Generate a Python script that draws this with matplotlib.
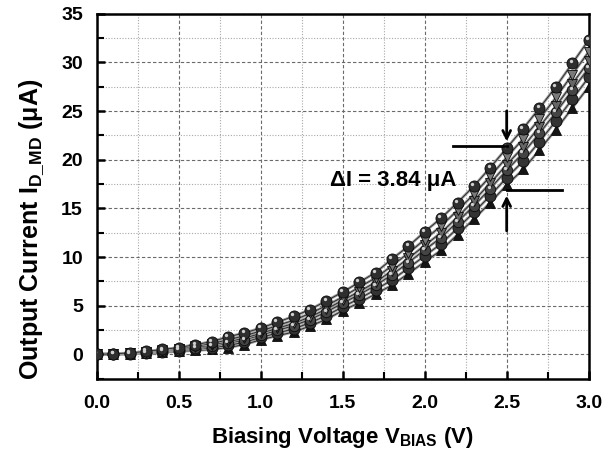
import numpy as np
import matplotlib
matplotlib.use("Agg")
import matplotlib.pyplot as plt
from matplotlib.ticker import MultipleLocator, FormatStrFormatter
from matplotlib.transforms import ScaledTranslation

plt.rcParams['font.family'] = ['Liberation Sans', 'DejaVu Sans']
plt.rcParams['font.weight'] = 'bold'
plt.rcParams['mathtext.fontset'] = 'custom'
plt.rcParams['mathtext.rm'] = 'Liberation Sans:bold'
plt.rcParams['mathtext.bf'] = 'Liberation Sans:bold'
plt.rcParams['mathtext.it'] = 'Liberation Sans:bold'

# bias voltage (V)
v_bias = [0.0, 0.1, 0.2, 0.3, 0.4, 0.5, 0.6, 0.7, 0.8, 0.9, 1.0,
          1.1, 1.2, 1.3, 1.4, 1.5, 1.6, 1.7, 1.8, 1.9, 2.0,
          2.1, 2.2, 2.3, 2.4, 2.5, 2.6, 2.7, 2.8, 2.9, 3.0]

# output current (uA), top curve to bottom curve
i_s1 = [0.0, 0.05, 0.15, 0.3, 0.5, 0.7, 1.0, 1.3, 1.8, 2.2, 2.7,
        3.3, 3.9, 4.6, 5.5, 6.4, 7.4, 8.4, 9.8, 11.1, 12.6,
        14.0, 15.6, 17.3, 19.2, 21.2, 23.2, 25.3, 27.5, 29.9, 32.3]
i_s2 = [0.0, 0.04, 0.12, 0.25, 0.42, 0.6, 0.85, 1.1, 1.5, 1.9, 2.4,
        2.95, 3.5, 4.2, 5.0, 5.9, 6.9, 7.85, 9.1, 10.4, 11.8,
        13.2, 14.8, 16.45, 18.3, 20.25, 22.15, 24.2, 26.4, 28.75, 31.1]
i_s3 = [0.0, 0.03, 0.1, 0.21, 0.37, 0.52, 0.73, 0.94, 1.3, 1.66, 2.16,
        2.67, 3.18, 3.84, 4.65, 5.55, 6.45, 7.4, 8.6, 9.85, 11.2,
        12.5, 14.1, 15.8, 17.6, 19.5, 21.3, 23.4, 25.5, 27.8, 30.1]
i_s4 = [0.0, 0.02, 0.09, 0.18, 0.32, 0.46, 0.64, 0.82, 1.14, 1.48, 1.98,
        2.46, 2.94, 3.58, 4.36, 5.26, 6.14, 7.08, 8.18, 9.42, 10.74,
        12.0, 13.62, 15.26, 17.04, 18.92, 20.68, 22.72, 24.86, 27.14, 29.42]
i_s5 = [0.0, 0.01, 0.07, 0.14, 0.26, 0.38, 0.52, 0.66, 0.92, 1.24, 1.74,
        2.18, 2.62, 3.24, 3.98, 4.88, 5.72, 6.64, 7.64, 8.86, 10.12,
        11.36, 12.96, 14.58, 16.32, 18.16, 19.84, 21.86, 23.98, 26.22, 28.46]
i_s6 = [0.0, 0.0, 0.05, 0.1, 0.2, 0.3, 0.4, 0.5, 0.7, 1.0, 1.5,
        1.9, 2.3, 2.9, 3.6, 4.5, 5.3, 6.2, 7.1, 8.3, 9.5,
        10.7, 12.3, 13.9, 15.6, 17.4, 19.0, 21.0, 23.1, 25.3, 27.5]

series = [i_s6, i_s5, i_s4, i_s3, i_s2, i_s1]
markers = ['^', 'o', 'o', 'v', 'v', 'o']
faces = ['#151515', '#333333', '#444444', '#666666', '#7a7a7a', '#2e2e2e']
sizes = [7.5, 8, 7.5, 7, 7, 8]

fig = plt.figure(figsize=(6.05, 4.59), dpi=100)
ax = fig.add_axes([0.160, 0.175, 0.813, 0.795])

for ys, m, fc, ms in zip(series, markers, faces, sizes):
    ax.plot(v_bias, ys, color='#9a9a9a', lw=2.0, zorder=3)
    ax.plot(v_bias, ys, color='#222222', lw=0.6, zorder=3)
    ax.plot(v_bias, ys, linestyle='none', marker=m, ms=ms, mfc=fc,
            mec='#0a0a0a', mew=0.6, zorder=4)

# shiny spot on the sphere markers
shift = ax.transData + ScaledTranslation(-1.2 / 72, 1.4 / 72, fig.dpi_scale_trans)
for ys in [i_s1, i_s4]:
    ax.plot(v_bias, ys, linestyle='none', marker='o', ms=2.4, mfc='#d0d0d0',
            mec='none', zorder=5, transform=shift)

ax.set_xlim(0, 3.0)
ax.set_ylim(-2.5, 35)
ax.xaxis.set_major_locator(MultipleLocator(0.5))
ax.xaxis.set_minor_locator(MultipleLocator(0.25))
ax.yaxis.set_major_locator(MultipleLocator(5))
ax.yaxis.set_minor_locator(MultipleLocator(2.5))
ax.xaxis.set_major_formatter(FormatStrFormatter('%.1f'))

ax.grid(which='major', color='#6a6a6a', linestyle=(0, (3, 2)), lw=0.8)
ax.grid(which='minor', color='#a8a8a8', linestyle=(0, (1, 1.5)), lw=0.8)
ax.set_axisbelow(True)

ax.tick_params(which='major', direction='in', length=6, width=1.8, labelsize=14)
ax.tick_params(axis='x', which='major', pad=12)
ax.tick_params(axis='y', which='major', pad=10)
ax.tick_params(which='minor', direction='in', length=5, width=1.5)
for s in ax.spines.values():
    s.set_linewidth(1.8)

ax.set_xlabel(r'Biasing Voltage V$_{\rm BIAS}$ (V)', fontsize=16, fontweight='bold', labelpad=9)
ax.set_ylabel(r'Output Current I$_{\rm D\_MD}$ (μA)', fontsize=18, fontweight='bold', labelpad=11)
ax.yaxis.label.set_y(0.41)

# delta I annotation
ax.text(1.42, 17.9, 'ΔI = 3.84 μA', fontsize=16, fontweight='bold',
        va='center', ha='left', zorder=6)
ax.plot([2.17, 2.5], [21.4, 21.4], color='black', lw=2, zorder=6)
ax.plot([2.5, 2.84], [16.9, 16.9], color='black', lw=2, zorder=6)
ax.annotate('', xy=(2.5, 21.6), xytext=(2.5, 25.3),
            arrowprops=dict(arrowstyle='->', lw=2, color='black', mutation_scale=14), zorder=6)
ax.annotate('', xy=(2.5, 16.6), xytext=(2.5, 12.4),
            arrowprops=dict(arrowstyle='->', lw=2, color='black', mutation_scale=14), zorder=6)

fig.savefig('out.png', dpi=100)
